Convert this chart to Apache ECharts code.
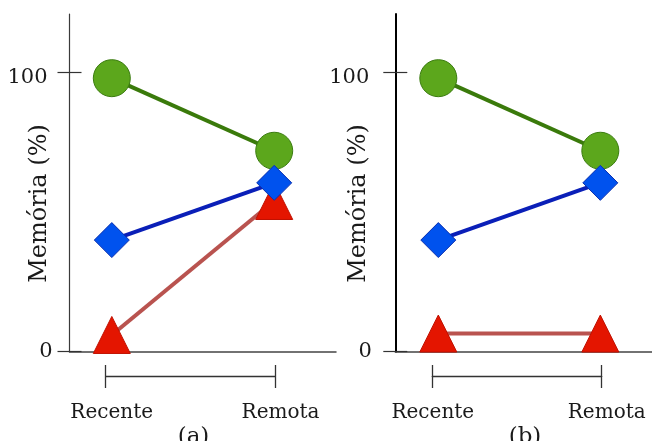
<!DOCTYPE html>
<html>
<head>
<meta charset="utf-8">
<script src="https://cdn.jsdelivr.net/npm/echarts@6/dist/echarts.min.js"></script>
<style>
  html, body { margin: 0; padding: 0; background: #ffffff; }
  #chart { width: 652px; height: 441px; }
</style>
</head>
<body>
<div id="chart"></div>
<script>
// Retention conditions shown on the horizontal axis
const categories = ['Recente', 'Remota'];
// Y tick values (percent)
const yTicks = [0, 100];
const yMax = 121;
const yTitle = 'Memória (%)';
const panelTags = ['(a)', '(b)'];

// Panel (a)
const greenA = [98, 72];
const blueA = [40, 60.5];
const redA = [6, 54];

// Panel (b)
const greenB = [98, 72];
const blueB = [40, 60.5];
const redB = [6.5, 6.5];

const FONT = 'DejaVu Serif';
const INK = '#1a1a1a';
const TICK = { color: '#333', width: 1.2 };

// Layout of each panel (pixels)
const layout = [
  { left: 69.5, width: 266.5, xMin: -0.2605, xMax: 1.3805, brLeft: 105.7, brWidth: 169.3,
    axisColor: '#3a3a3a', axisWidth: 1.2, labelMargin: 17, label100Shift: 5,
    catPad: [12, 11], titleX: 39.5, tagX: 193.5 },
  { left: 395.3, width: 256.7, xMin: -0.2654, xMax: 1.319, brLeft: 432.3, brWidth: 169.4,
    axisColor: '#000000', axisWidth: 2, labelMargin: 23.5, label100Shift: 2.5,
    catPad: [1, 10], titleX: 358.5, tagX: 525 }
];
const panelData = [
  { green: greenA, blue: blueA, red: redA },
  { green: greenB, blue: blueB, red: redB }
];

const PLOT_TOP = 14;
const PLOT_BOTTOM = 441 - 351.7;
const BRACKET_TOP = 375;

const grids = [];
const xAxes = [];
const yAxes = [];
const series = [];
const graphics = [];

const hiddenX = g => ({ gridIndex: g, type: 'value', min: 0, max: 1, show: false });

layout.forEach((p, k) => {
  // main plotting grid
  const g = grids.length;
  grids.push({ left: p.left, width: p.width, top: PLOT_TOP, bottom: PLOT_BOTTOM, containLabel: false });
  const xi = xAxes.length;
  xAxes.push({
    gridIndex: g, type: 'value', min: p.xMin, max: p.xMax, position: 'bottom',
    axisLine: { show: true, onZero: false, lineStyle: { color: '#444', width: 1.5 } },
    axisTick: { show: false }, axisLabel: { show: false }, splitLine: { show: false }
  });
  const yi = yAxes.length;
  yAxes.push({
    gridIndex: g, type: 'value', min: 0, max: yMax, position: 'left',
    axisLine: { show: true, onZero: false, lineStyle: { color: p.axisColor, width: p.axisWidth } },
    axisTick: { show: true, inside: false, length: 12, customValues: yTicks, lineStyle: TICK },
    axisLabel: {
      show: true, margin: p.labelMargin, customValues: yTicks,
      showMinLabel: true, showMaxLabel: true,
      fontFamily: FONT, fontSize: 21, color: INK,
      formatter: v => '{t' + v + '|' + v + '}',
      rich: {
        t0: { fontFamily: FONT, fontSize: 21, color: INK },
        t100: { fontFamily: FONT, fontSize: 21, color: INK, padding: [10, p.label100Shift, 0, 0] }
      }
    },
    splitLine: { show: false }
  });

  // overlay grid carrying the inward half of each y tick
  const go = grids.length;
  grids.push({ left: p.left, width: p.width, top: PLOT_TOP, bottom: PLOT_BOTTOM, containLabel: false });
  xAxes.push(hiddenX(go));
  yAxes.push({
    gridIndex: go, type: 'value', min: 0, max: yMax, position: 'left',
    axisLine: { show: false },
    axisTick: { show: true, inside: true, length: 12, customValues: yTicks, lineStyle: TICK },
    axisLabel: { show: false }, splitLine: { show: false }
  });

  const d = panelData[k];
  const mk = (vals, symbol, size, fill, border, lineColor, z) => ({
    type: 'line', xAxisIndex: xi, yAxisIndex: yi,
    data: vals.map((v, i) => [i, v]),
    symbol: symbol, symbolSize: size, showAllSymbol: true, clip: false,
    itemStyle: { color: fill, borderColor: border, borderWidth: 1 },
    lineStyle: { color: lineColor, width: 4 },
    emphasis: { disabled: true }, z: z, silent: true
  });
  series.push(mk(d.green, 'circle', 37, '#5ca71c', '#3b7c10', '#3a7a0b', 2));
  series.push(mk(d.red, 'triangle', [37, 37], '#e41500', '#c01000', '#b9534f', 3));
  series.push(mk(d.blue, 'diamond', 35, '#0052ee', '#0a2fb0', '#0a1fb8', 4));

  // bracket spanning the two conditions, with the category labels
  const gb = grids.length;
  grids.push({ left: p.brLeft, width: p.brWidth, top: BRACKET_TOP, height: 1, containLabel: false });
  xAxes.push({
    gridIndex: gb, type: 'value', min: 0, max: 1, interval: 1, position: 'top',
    axisLine: { show: false },
    axisTick: { show: true, length: 11, lineStyle: { color: '#333', width: 1.3 } },
    axisLabel: { show: false }, splitLine: { show: false }
  });
  xAxes.push({
    gridIndex: gb, type: 'value', min: 0, max: 1, interval: 1, position: 'bottom',
    axisLine: { show: true, onZero: false, lineStyle: { color: '#333', width: 1.3 } },
    axisTick: { show: true, length: 12, lineStyle: { color: '#333', width: 1.3 } },
    axisLabel: {
      show: true, margin: 27, fontFamily: FONT, fontSize: 20, color: INK,
      showMinLabel: true, showMaxLabel: true,
      formatter: v => '{c' + v + '|' + categories[v] + '}',
      rich: {
        c0: { fontFamily: FONT, fontSize: 20, color: INK, padding: [0, 0, 0, p.catPad[0]] },
        c1: { fontFamily: FONT, fontSize: 20, color: INK, padding: [0, 0, 0, p.catPad[1]] }
      }
    },
    splitLine: { show: false }
  });
  yAxes.push({ gridIndex: gb, type: 'value', show: false });

  // axis title and panel tag
  graphics.push({
    type: 'text', x: p.titleX, y: 203.5, rotation: Math.PI / 2, silent: true,
    style: { text: yTitle, font: '24px "' + FONT + '"', fill: INK,
             align: 'center', verticalAlign: 'middle', textAlign: 'center', textVerticalAlign: 'middle' }
  });
  graphics.push({
    type: 'text', x: p.tagX, y: 437, silent: true,
    style: { text: panelTags[k], font: '23px "' + FONT + '"', fill: INK,
             align: 'center', verticalAlign: 'middle', textAlign: 'center', textVerticalAlign: 'middle' }
  });
});

const chart = echarts.init(document.getElementById('chart'), null, { renderer: 'canvas' });
chart.setOption({
  animation: false,
  backgroundColor: '#ffffff',
  grid: grids,
  xAxis: xAxes,
  yAxis: yAxes,
  series: series,
  graphic: graphics
});
</script>
</body>
</html>
